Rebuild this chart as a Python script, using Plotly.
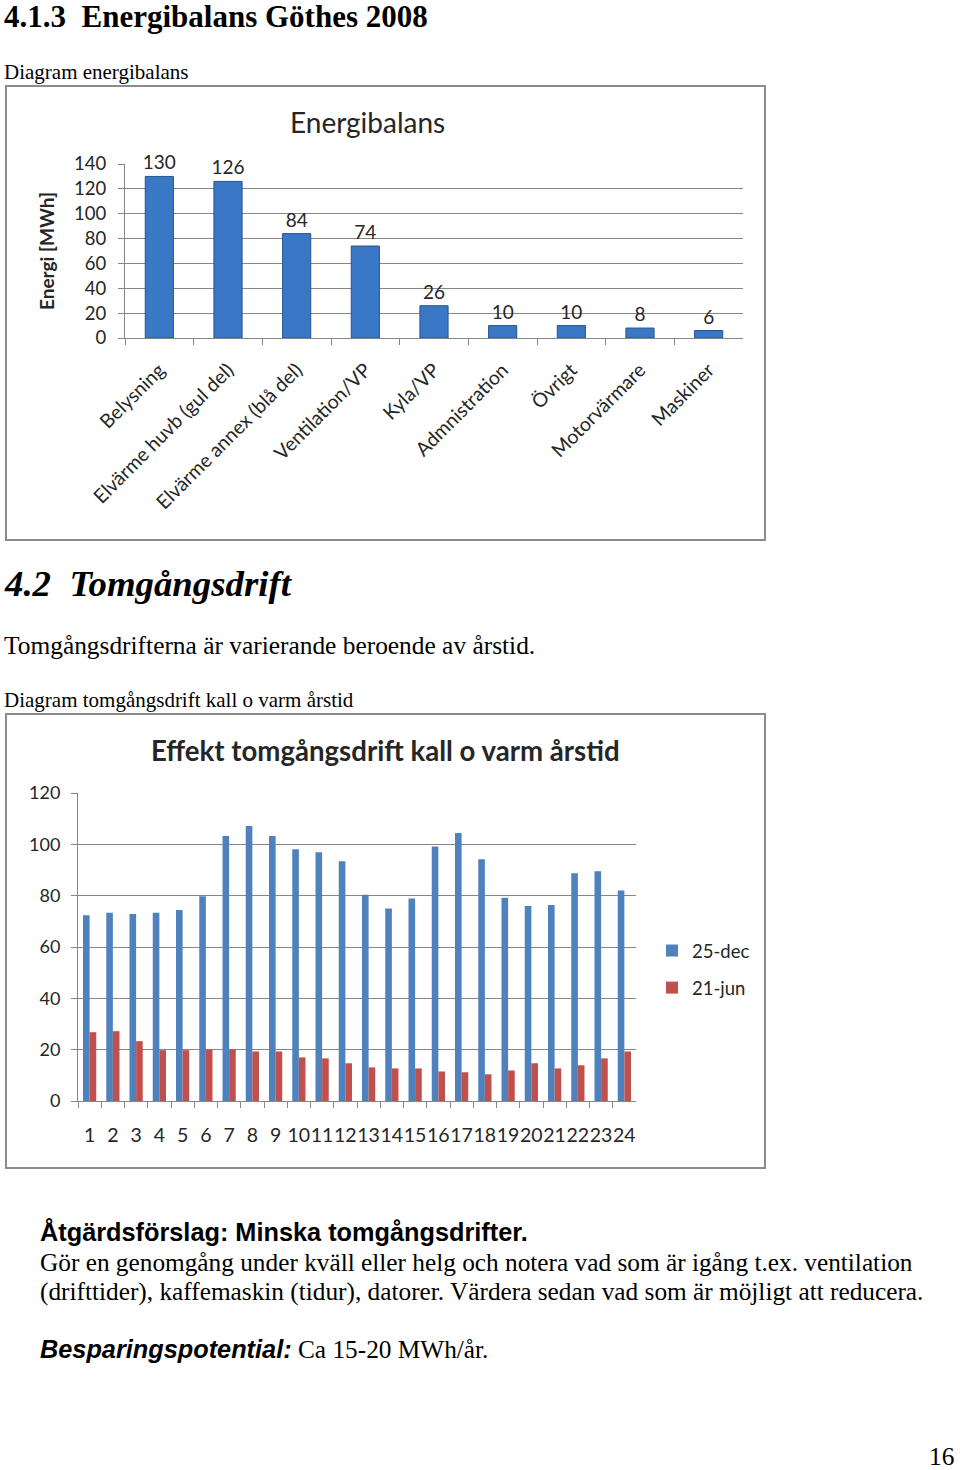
import plotly.graph_objects as go

W, H = 960, 1470

# ---------- data ----------
cat1 = ["Belysning", "Elvärme huvb (gul del)", "Elvärme annex (blå del)", "Ventilation/VP",
        "Kyla/VP", "Admnistration", "Övrigt", "Motorvärmare", "Maskiner"]
val1 = [130, 126, 84, 74, 26, 10, 10, 8, 6]

hours = [str(i) for i in range(1, 25)]
dec25 = [72.4, 73.3, 72.9, 73.3, 74.4, 79.8, 103.2, 107.1, 103.2, 98.1, 96.9, 93.4,
         80.4, 75.0, 78.9, 99.2, 104.4, 94.2, 79.2, 76.0, 76.4, 88.7, 89.5, 82.0]
jun21 = [26.8, 27.2, 23.3, 19.8, 19.8, 20.1, 20.1, 19.3, 19.3, 17.0, 16.6, 14.7,
         13.1, 12.7, 12.7, 11.5, 11.2, 10.4, 11.9, 14.7, 12.7, 13.9, 16.6, 19.3]

CAL = "Lato, 'Open Sans', sans-serif"
SERIF = "'Liberation Serif', 'DejaVu Serif', serif"
SANS = "'Liberation Sans', Arial, sans-serif"
GRID = "#868686"
TXT = "#262626"


def px(x):
    return x / W


def py(y):
    return 1 - y / H


fig = go.Figure()

fig.add_trace(go.Bar(
    x=cat1, y=val1, xaxis="x", yaxis="y", width=0.41,
    marker=dict(color="#3a78c6", line=dict(color="#25548f", width=1)),
    text=[str(v) for v in val1], textposition="outside", constraintext="none",
    textfont=dict(family=CAL, size=19, color=TXT), cliponaxis=False,
    showlegend=False,
))

fig.add_trace(go.Bar(
    x=hours, y=dec25, xaxis="x2", yaxis="y2", name="25-dec",
    marker=dict(color="#4f81bd"), legendgroup="a",
))
fig.add_trace(go.Bar(
    x=hours, y=jun21, xaxis="x2", yaxis="y2", name="21-jun",
    marker=dict(color="#c0504d"), legendgroup="b",
))

axis_common = dict(showline=True, linecolor=GRID, linewidth=1, ticks="outside",
                   tickcolor=GRID, ticklen=6, zeroline=False, automargin=False)

fig.update_layout(
    template="none",
    width=W, height=H, autosize=False,
    margin=dict(l=0, r=0, t=0, b=0, pad=0, autoexpand=False),
    paper_bgcolor="white", plot_bgcolor="white",
    barmode="group", bargap=0.43, bargroupgap=0,
    xaxis=dict(domain=[px(125), px(743)], anchor="y", type="category",
               tickson="boundaries", tickangle=-45,
               tickfont=dict(family=CAL, size=19.5, color=TXT),
               showgrid=False, ticklabelstandoff=12, **axis_common),
    yaxis=dict(domain=[py(338), py(164)], anchor="x", range=[0, 140], dtick=20,
               showgrid=True, gridcolor=GRID, gridwidth=1,
               tickfont=dict(family=CAL, size=18.5, color=TXT),
               ticklabelstandoff=8, **axis_common),
    xaxis2=dict(domain=[px(78), px(636)], anchor="y2", type="category",
                tickson="boundaries", tickangle=0,
                tickfont=dict(family=CAL, size=19.5, color=TXT),
                showgrid=False, ticklabelstandoff=17, **axis_common),
    yaxis2=dict(domain=[py(1101), py(793)], anchor="x2", range=[0, 120], dtick=20,
                showgrid=True, gridcolor=GRID, gridwidth=1,
                tickfont=dict(family=CAL, size=18, color=TXT),
                ticklabelstandoff=7, **axis_common),
    legend=dict(x=px(652), y=py(932), xanchor="left", yanchor="top",
                font=dict(family=CAL, size=18.5, color=TXT),
                tracegroupgap=10, traceorder="grouped", itemwidth=30,
                bgcolor="rgba(0,0,0,0)", borderwidth=0),
    shapes=[
        dict(type="rect", xref="paper", yref="paper", x0=px(6), x1=px(765),
             y0=py(540), y1=py(86), line=dict(color="#8c8c8c", width=2)),
        dict(type="rect", xref="paper", yref="paper", x0=px(6), x1=px(765),
             y0=py(1168), y1=py(714), line=dict(color="#8c8c8c", width=2)),
    ],
)


def note(x, y, text, family, size, color="black", xanchor="left", angle=0):
    fig.add_annotation(x=px(x), y=py(y), xref="paper", yref="paper", text=text,
                       showarrow=False, xanchor=xanchor, yanchor="middle",
                       textangle=angle, borderpad=0,
                       font=dict(family=family, size=size, color=color))


note(3, 17, "<b>4.1.3  Energibalans Göthes 2008</b>", SERIF, 31)
note(3, 72, "Diagram energibalans", SERIF, 21)
note(367, 122, "Energibalans", CAL, 28, TXT, xanchor="center")
note(46, 251, "<b>Energi [MWh]</b>", CAL, 19, TXT, xanchor="center", angle=-90)
note(3, 583, "<b><i>4.2  Tomgångsdrift</i></b>", SERIF, 36.8)
note(3, 645, "Tomgångsdrifterna är varierande beroende av årstid.", SERIF, 25.4)
note(3, 700, "Diagram tomgångsdrift kall o varm årstid", SERIF, 21)
note(385, 750, "<b>Effekt tomgångsdrift kall o varm årstid</b>", CAL, 27.6, TXT, xanchor="center")
note(39, 1232, "<b>Åtgärdsförslag: Minska tomgångsdrifter.</b>", SANS, 25.3)
note(39, 1262, "Gör en genomgång under kväll eller helg och notera vad som är igång t.ex. ventilation",
     SERIF, 25.3)
note(39, 1291, "(drifttider), kaffemaskin (tidur), datorer. Värdera sedan vad som är möjligt att reducera.",
     SERIF, 25.3)
note(39, 1349, "<b><i>Besparingspotential:</i></b>", SANS, 25.3)
note(297, 1349, "Ca 15-20 MWh/år.", SERIF, 25.3)
note(955, 1456, "16", SERIF, 25.3, xanchor="right")

fig.write_html("out.html", config={"displayModeBar": False},
               post_script="document.body.style.margin='0';document.body.style.padding='0';")
